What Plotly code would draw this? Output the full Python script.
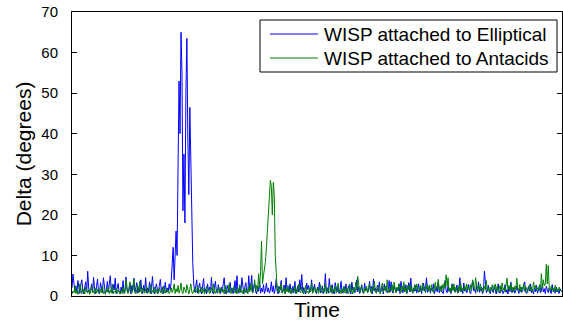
import plotly.graph_objects as go

elliptical = [
    2.0, 5.4, 3.2, 1.0, 2.5, 0.8, 3.8, 1.5, 0.6, 2.9, 4.0, 1.2, 0.5, 2.2, 3.5, 1.0, 6.1, 2.0, 0.7, 1.6, 3.0, 0.9, 4.6, 1.8, 0.6,
    2.4, 4.2, 1.0, 0.5, 3.3, 1.7, 0.8, 4.5, 2.0, 0.6, 1.4, 3.6, 0.9, 2.5, 5.0, 1.1, 0.7, 2.8, 1.5, 4.4, 0.6, 1.9, 3.1, 1.0, 0.5,
    2.2, 1.0, 3.8, 0.6, 1.5, 4.7, 2.0, 0.8, 1.2, 3.0, 0.5, 2.6, 1.4, 4.4, 0.9, 1.8, 3.3, 0.7, 2.1, 1.0, 4.0, 1.6, 0.6, 2.7, 1.2,
    4.5, 0.8, 2.0, 1.3, 3.5, 0.6, 2.4, 4.8, 1.1, 0.5, 1.9, 3.0, 1.4, 0.7, 2.6, 4.1, 1.0, 2.2, 0.6, 1.5, 3.4, 0.9, 2.0, 1.2, 3.0,
    1.5, 3.5, 8.0, 12.0, 4.0, 9.0, 16.0, 10.0, 30.0, 53.0, 40.0, 65.0, 55.0, 21.0, 35.0, 18.0, 50.0, 63.5, 38.0, 25.0, 46.5, 30.0, 14.0, 8.0, 3.0,
    1.0, 2.4, 4.0, 0.7, 1.8, 3.2, 1.2, 0.5, 2.5, 4.3, 1.0, 1.6, 0.6, 3.0, 1.4, 2.2, 0.8, 4.6, 1.1, 0.5, 2.0, 3.6, 1.3, 0.7, 2.8,
    1.5, 0.6, 2.2, 1.0, 3.0, 4.5, 1.2, 0.5, 2.6, 1.8, 0.8, 3.4, 1.1, 2.0, 0.6, 1.5, 3.8, 0.9, 5.0, 1.3, 0.7, 2.4, 1.0, 4.5, 1.6,
    0.5, 2.2, 3.3, 1.0, 0.7, 5.0, 1.4, 2.0, 5.1, 0.8, 1.6, 3.0, 1.1, 0.5, 2.4, 1.2, 3.6, 0.7, 1.9, 1.0, 2.8, 0.6, 1.5, 3.2, 1.0,
    2.0, 0.7, 1.4, 3.5, 1.0, 2.5, 0.6, 1.8, 4.2, 1.2, 0.5, 2.3, 1.5, 3.8, 0.8, 1.2, 2.7, 0.6, 4.5, 1.4, 2.0, 0.9, 3.0, 1.3, 0.7,
    2.4, 1.1, 3.6, 0.6, 1.7, 2.5, 1.0, 4.0, 1.5, 5.3, 0.8, 2.1, 1.2, 0.5, 3.2, 1.6, 2.6, 0.9, 1.3, 4.0, 0.7, 1.8, 2.9, 1.0, 0.6,
    2.2, 1.4, 3.4, 0.8, 1.6, 2.5, 0.6, 1.2, 5.5, 1.0, 2.0, 0.7, 4.3, 1.5, 0.9, 2.8, 1.2, 0.5, 3.3, 1.7, 1.0, 2.4, 0.6, 1.5, 3.6,
    1.0, 0.7, 2.2, 1.3, 3.0, 0.6, 1.8, 2.6, 1.0, 0.5, 3.4, 1.5, 2.0, 0.8, 1.2, 4.0, 1.0, 2.3, 0.6, 1.6, 2.8, 1.1, 0.7, 3.2, 1.4,
    2.0, 0.8, 1.5, 3.6, 1.0, 2.4, 0.6, 4.2, 1.3, 1.9, 0.7, 2.7, 1.1, 3.5, 0.9, 1.6, 2.2, 0.5, 3.0, 1.4, 2.5, 0.8, 1.2, 3.8, 1.0,
    3.5, 1.2, 0.7, 2.4, 1.6, 0.9, 2.0, 1.3, 3.0, 0.6, 3.6, 1.5, 0.8, 2.2, 1.1, 2.8, 0.6, 1.7, 3.3, 1.0, 4.4, 1.4, 0.7, 2.0, 1.2,
    2.6, 0.8, 1.5, 3.0, 1.0, 2.2, 0.6, 1.8, 3.2, 1.2, 2.0, 4.5, 0.9, 1.4, 2.6, 0.7, 1.9, 1.2, 3.0, 0.6, 1.5, 2.3, 1.0, 3.4, 0.8,
    1.6, 2.4, 1.0, 0.6, 2.0, 3.8, 1.3, 0.8, 2.5, 1.1, 1.8, 0.6, 3.0, 1.4, 2.2, 0.9, 1.2, 2.7, 0.7, 1.5, 4.5, 1.0, 2.0, 0.6, 3.2,
    1.2, 2.0, 0.8, 1.6, 2.8, 1.0, 0.6, 2.2, 3.8, 1.3, 1.8, 0.7, 2.5, 1.1, 3.5, 0.9, 1.5, 2.2, 0.6, 1.2, 6.1, 2.0, 0.8, 1.4, 2.6,
    1.0, 0.6, 2.0, 1.4, 0.8, 2.6, 1.2, 0.5, 1.8, 3.0, 1.0, 0.7, 2.2, 1.5, 0.6, 1.2, 2.8, 0.9, 1.6, 0.5, 2.4, 1.1, 3.4, 0.8, 1.5,
    2.0, 0.7, 1.3, 2.5, 1.0, 0.6, 1.8, 2.2, 0.9, 1.4, 2.8, 3.5, 1.0, 0.6, 1.6, 2.4, 1.2, 3.0, 0.8, 1.5, 0.5, 2.0, 1.1, 2.6, 0.7,
    1.4, 2.2, 0.8, 1.2, 3.0, 1.0, 1.8, 0.6, 2.4, 1.3, 0.8, 2.0, 1.5, 0.6, 2.8, 1.1, 1.6, 0.7, 2.2, 1.0, 1.4, 0.6, 1.8, 1.2, 0.9,
]

antacids = [
    0.5, 1.2, 0.8, 2.5, 0.6, 1.5, 0.4, 1.0, 3.0, 1.4, 0.6, 1.8, 0.9, 0.5, 2.2, 1.1, 0.7, 1.6, 0.4, 1.0, 2.6, 0.8, 1.3, 0.5, 1.9,
    0.7, 1.2, 2.0, 0.5, 1.6, 0.9, 2.4, 0.6, 1.1, 0.4, 1.8, 1.0, 2.2, 0.6, 1.4, 0.8, 3.0, 0.5, 1.2, 0.9, 2.0, 0.6, 1.5, 1.0, 0.5,
    1.4, 0.6, 2.2, 1.0, 0.8, 4.0, 1.5, 0.6, 2.0, 3.5, 1.2, 0.7, 1.8, 4.1, 1.0, 0.5, 1.6, 2.6, 0.8, 3.6, 1.3, 0.6, 2.0, 1.1, 0.7,
    1.5, 2.4, 0.6, 1.2, 0.9, 2.8, 0.5, 1.4, 1.0, 2.2, 0.7, 1.6, 0.5, 1.1, 2.0, 0.8, 1.3, 0.6, 2.5, 1.0, 0.7, 1.8, 0.9, 1.4, 0.6,
    1.2, 2.0, 0.8, 1.5, 3.0, 0.6, 1.8, 1.0, 2.6, 0.7, 1.4, 3.2, 1.0, 0.6, 2.2, 1.5, 0.8, 2.8, 1.2, 0.5, 1.7, 3.0, 1.0, 0.6, 1.4,
    2.0, 0.8, 1.2, 2.6, 0.6, 1.5, 1.0, 2.2, 0.7, 1.8, 0.5, 1.3, 2.4, 0.9, 1.6, 0.6, 1.1, 2.0, 0.8, 3.0, 1.2, 0.6, 1.5, 1.0, 2.2,
    0.7, 1.4, 2.0, 0.9, 1.6, 0.5, 2.6, 1.2, 0.8, 1.5, 3.0, 1.0, 0.6, 1.8, 1.3, 2.4, 0.7, 1.1, 0.5, 1.9, 1.0, 2.8, 0.8, 1.4, 0.6,
    1.2, 2.0, 0.8, 1.5, 0.6, 2.4, 1.0, 3.2, 1.4, 0.7, 2.0, 4.0, 1.5, 2.6, 1.0, 5.5, 2.0, 6.0, 13.5, 3.0, 5.0, 6.5, 8.5, 12.0, 16.0,
    22.0, 26.0, 28.5, 27.0, 20.0, 28.0, 25.0, 10.0, 3.0, 1.2, 2.5, 0.8, 1.6, 3.0, 0.7, 1.3, 2.2, 0.6, 1.8, 1.0, 2.6, 0.9, 1.4, 0.5, 2.0,
    1.2, 0.7, 2.4, 1.5, 0.6, 1.8, 3.0, 1.0, 0.8, 2.2, 1.4, 0.5, 1.6, 2.6, 0.9, 1.2, 0.6, 2.0, 1.0, 3.2, 0.7, 1.5, 2.3, 0.8, 1.1,
    2.0, 0.6, 1.4, 2.8, 1.0, 0.7, 1.8, 1.2, 3.0, 0.5, 1.5, 2.2, 0.8, 1.1, 2.6, 0.6, 1.6, 1.0, 2.4, 0.7, 1.3, 3.2, 0.9, 1.5, 0.6,
    1.8, 1.0, 2.5, 0.7, 1.4, 2.0, 0.6, 1.2, 3.0, 0.9, 1.6, 0.5, 2.2, 1.1, 3.4, 1.5, 4.8, 2.0, 0.8, 1.3, 2.6, 1.0, 0.6, 1.9, 1.2,
    2.4, 0.8, 1.5, 3.0, 1.1, 0.6, 2.2, 1.4, 3.6, 1.0, 0.7, 1.8, 2.6, 1.2, 0.5, 2.0, 3.2, 0.9, 1.6, 2.4, 1.0, 4.0, 1.3, 0.8, 2.0,
    1.4, 2.8, 1.0, 3.4, 1.6, 0.8, 2.2, 1.2, 3.0, 1.8, 0.9, 2.5, 1.4, 3.5, 1.0, 2.0, 0.7, 2.6, 1.5, 3.0, 1.1, 2.2, 0.8, 1.6, 2.8,
    1.2, 3.0, 2.0, 0.9, 1.6, 2.6, 1.0, 3.2, 1.4, 2.2, 0.8, 1.8, 3.0, 1.2, 2.4, 1.0, 2.8, 1.5, 0.9, 2.0, 3.4, 1.3, 2.2, 4.1, 1.5,
    2.4, 1.0, 2.8, 1.6, 3.2, 2.0, 5.2, 2.5, 4.5, 1.2, 2.0, 0.9, 2.6, 1.4, 3.0, 1.0, 2.2, 1.6, 0.8, 2.5, 1.2, 3.0, 1.0, 2.0, 1.4,
    2.6, 1.2, 3.0, 1.6, 2.2, 1.0, 2.8, 1.5, 4.0, 2.0, 1.4, 4.5, 2.2, 1.0, 2.6, 1.5, 3.0, 1.2, 2.0, 0.9, 2.4, 1.6, 3.8, 1.2, 2.0,
    1.0, 2.2, 1.4, 2.8, 1.0, 1.8, 3.0, 1.2, 2.4, 0.9, 1.6, 2.6, 1.1, 3.2, 1.5, 2.0, 1.0, 2.4, 4.4, 1.6, 2.6, 1.2, 3.0, 1.4, 2.2,
    1.0, 2.5, 1.5, 4.4, 2.0, 1.2, 2.8, 1.0, 2.2, 1.6, 3.0, 1.1, 2.4, 1.5, 0.9, 2.0, 2.8, 1.2, 2.2, 1.0, 3.5, 1.8, 2.6, 1.3, 2.0,
    1.6, 2.8, 1.2, 5.5, 2.0, 4.0, 2.5, 3.0, 7.8, 3.0, 7.5, 2.0, 1.2, 2.4, 1.5, 2.0, 1.0, 2.6, 1.4, 1.8, 1.0, 2.2, 1.5, 1.2, 1.0,
]

assert len(elliptical) == 500 and len(antacids) == 500, (len(elliptical), len(antacids))

time = list(range(len(elliptical)))
y_ticks = [0, 10, 20, 30, 40, 50, 60, 70]
series_names = ["WISP attached to Elliptical", "WISP attached to Antacids"]
series_colors = ["rgb(0,0,255)", "rgb(0,128,0)"]

font = "Liberation Sans, Arial, Helvetica, sans-serif"

fig = go.Figure()
for name, vals, col in zip(series_names, [elliptical, antacids], series_colors):
    fig.add_trace(go.Scatter(x=time, y=vals, mode="lines", name=name,
                             line=dict(color=col, width=1), showlegend=False))

# Legend box (drawn to match the original's MATLAB-style legend)
fig.add_shape(type="rect", xref="paper", yref="paper", x0=0.3837, x1=0.9898, y0=0.7887, y1=0.9718,
              line=dict(color="black", width=1), fillcolor="white", layer="above")
legend_rows_y = [0.9225, 0.838]
for name, col, yy in zip(series_names, series_colors, legend_rows_y):
    fig.add_shape(type="line", xref="paper", yref="paper", x0=0.4041, x1=0.502, y0=yy, y1=yy,
                  line=dict(color=col, width=1), layer="above")
    fig.add_annotation(xref="paper", yref="paper", x=0.5102, y=yy, xanchor="left", yanchor="middle",
                       text=name, showarrow=False, font=dict(size=19, family=font, color="black"))

fig.update_layout(
    width=563, height=326,
    margin=dict(l=72, r=1, t=12, b=30, autoexpand=False),
    paper_bgcolor="white", plot_bgcolor="white",
    font=dict(family=font, color="black", size=15),
    showlegend=False,
    xaxis=dict(range=[0, len(elliptical) - 1], showticklabels=False, ticks="",
               showgrid=False, zeroline=False, showline=True, linecolor="black",
               linewidth=1, mirror=True, automargin=False,
               title=dict(text="Time", font=dict(size=21), standoff=6)),
    yaxis=dict(range=[0, 70], tickvals=y_ticks, ticks="inside", ticklen=5,
               tickcolor="black", showgrid=False, zeroline=False, showline=True,
               linecolor="black", linewidth=1, mirror="ticks", automargin=False,
               tickfont=dict(size=15), ticklabelstandoff=10, ticklabeloverflow="allow",
               title=dict(text="Delta (degrees)", font=dict(size=21), standoff=3)),
)

fig.write_html("out.html", config={"displayModeBar": False},
               post_script="document.body.style.margin='0';")
